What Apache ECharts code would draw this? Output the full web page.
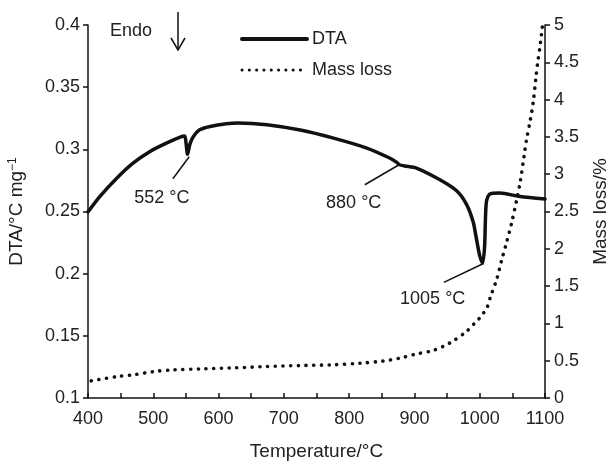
<!DOCTYPE html>
<html>
<head>
<meta charset="utf-8">
<script src="https://cdn.jsdelivr.net/npm/echarts@6/dist/echarts.min.js"></script>
<style>
html,body{margin:0;padding:0;background:#fff;}
#chart{width:615px;height:461px;}
</style>
</head>
<body>
<div id="chart"></div>
<script>
// DTA curve (temperature °C, DTA °C/mg)
const dtaTemp  = [400, 418, 444, 469, 495, 520, 543, 548, 552.5, 556, 561, 571, 587, 612, 630, 674, 725, 776, 827, 862, 873, 877, 885, 903, 939, 965, 980, 990, 995, 1000, 1004.5, 1007.5, 1008.7, 1010, 1013, 1018, 1031, 1062, 1100];
const dtaValue = [0.2497, 0.262, 0.2768, 0.2889, 0.2983, 0.305, 0.3103, 0.3108, 0.296, 0.304, 0.310, 0.3157, 0.3184, 0.3206, 0.3212, 0.3198, 0.3155, 0.309, 0.301, 0.293, 0.2895, 0.2876, 0.2866, 0.2849, 0.2755, 0.2665, 0.2555, 0.2415, 0.228, 0.2145, 0.2085, 0.222, 0.243, 0.2567, 0.2625, 0.2645, 0.2648, 0.262, 0.2600];

// Mass loss curve (temperature °C, mass loss %)
const massTemp  = [405, 444, 469, 500, 531, 572, 623, 674, 725, 776, 817, 852, 878, 903, 929, 954, 980, 995, 1000, 1011, 1017, 1026, 1034, 1041, 1049, 1057, 1062, 1068, 1072, 1077, 1082, 1086, 1089, 1092, 1096];
const massValue = [0.23, 0.287, 0.31, 0.354, 0.377, 0.39, 0.404, 0.422, 0.435, 0.445, 0.467, 0.495, 0.535, 0.59, 0.638, 0.737, 0.894, 1.03, 1.074, 1.209, 1.37, 1.59, 1.86, 2.08, 2.35, 2.67, 2.89, 3.25, 3.48, 3.70, 3.97, 4.29, 4.51, 4.69, 4.98];

// Axis ranges / ticks
const xTicks = [400, 1100, 100];
const leftTicks = [0.1, 0.4, 0.05];
const rightTicks = [0, 5, 0.5];

// Peak annotations: label, leader line start/end (data coords), label position
const peakLabels = ['552 °C', '880 °C', '1005 °C'];
const leaderFrom = [[530, 0.2763], [824, 0.2715], [945, 0.1930]];
const leaderTo   = [[555, 0.2940], [876.5, 0.2876], [1005, 0.2080]];
const labelAt    = [[513, 0.2605], [807, 0.2565], [928, 0.1795]];

const FONT = 'Liberation Sans, Arial, Helvetica, sans-serif';
const TXT = '#222';

const dtaData = dtaTemp.map((t, i) => [t, dtaValue[i]]);
const massData = massTemp.map((t, i) => [t, massValue[i]]);

const chart = echarts.init(document.getElementById('chart'), null, {renderer: 'canvas'});

const option = {
  backgroundColor: '#fff',
  animation: false,
  textStyle: {fontFamily: FONT},
  grid: {left: 88, right: 70, top: 25, bottom: 63, containLabel: false, outerBoundsMode: 'none'},
  legend: {
    orient: 'vertical',
    left: 240, top: 30, padding: 0,
    itemWidth: 65, itemHeight: 14, itemGap: 13,
    itemTextGap: 6,
    itemStyle: {opacity: 0},
    textStyle: {fontFamily: FONT, fontSize: 18, color: TXT},
    data: [
      {name: 'DTA', lineStyle: {width: 4}},
      {name: 'Mass loss', lineStyle: {width: 3, type: [0.1, 7.2], cap: 'round'}}
    ]
  },
  xAxis: {
    type: 'value',
    min: xTicks[0], max: xTicks[1], interval: xTicks[2],
    name: 'Temperature/°C',
    nameLocation: 'middle', nameGap: 44,
    nameTextStyle: {fontFamily: FONT, fontSize: 19, color: TXT},
    axisLine: {show: true, onZero: false, lineStyle: {color: '#111', width: 1.5}},
    axisTick: {show: true, inside: true, length: 5, lineStyle: {color: '#111', width: 1.5}},
    minorTick: {show: true, splitNumber: 2, length: 5, lineStyle: {color: '#111', width: 1.5}},
    axisLabel: {fontFamily: FONT, fontSize: 18, color: TXT, margin: 12, formatter: v => String(v)},
    splitLine: {show: false}
  },
  yAxis: [{
    type: 'value', position: 'left',
    min: leftTicks[0], max: leftTicks[1], interval: leftTicks[2],
    name: 'DTA/°C mg{sup|−1}',
    nameLocation: 'middle', nameGap: 62, nameRotate: 90,
    nameTextStyle: {fontFamily: FONT, fontSize: 19, color: TXT,
      rich: {sup: {fontFamily: FONT, fontSize: 12, color: TXT, verticalAlign: 'top', lineHeight: 10, padding: [0,0,8,0]}}},
    axisLine: {show: true, onZero: false, lineStyle: {color: '#111', width: 1.5}},
    axisTick: {show: true, inside: false, length: 5, lineStyle: {color: '#111', width: 1.5}},
    axisLabel: {fontFamily: FONT, fontSize: 18, color: TXT, margin: 8, formatter: v => String(v)},
    splitLine: {show: false}
  }, {
    type: 'value', position: 'right',
    min: rightTicks[0], max: rightTicks[1], interval: rightTicks[2],
    name: 'Mass loss/%',
    nameLocation: 'middle', nameGap: 46, nameRotate: 90,
    nameTextStyle: {fontFamily: FONT, fontSize: 19, color: TXT},
    axisLine: {show: true, onZero: false, lineStyle: {color: '#111', width: 1.5}},
    axisTick: {show: true, inside: false, length: 5, lineStyle: {color: '#111', width: 1.5}},
    axisLabel: {fontFamily: FONT, fontSize: 18, color: TXT, margin: 9, formatter: v => String(v)},
    splitLine: {show: false}
  }],
  series: [{
    name: 'DTA', type: 'line', yAxisIndex: 0,
    data: dtaData, smooth: 0.25, showSymbol: false, symbol: 'none',
    itemStyle: {color: '#111'},
    lineStyle: {color: '#111', width: 3.5, join: 'round', cap: 'round'},
    markLine: {
      silent: true, symbol: ['none', 'none'],
      lineStyle: {color: '#111', width: 1.5, type: 'solid'},
      label: {show: false},
      data: leaderFrom.map((p, i) => [{coord: p}, {coord: leaderTo[i]}])
    },
    markPoint: {
      silent: true, symbol: 'rect', symbolSize: 1,
      itemStyle: {color: 'rgba(0,0,0,0)'},
      label: {show: true, position: 'inside', fontFamily: FONT, fontSize: 18, color: TXT,
        formatter: p => p.name},
      data: labelAt.map((p, i) => ({name: peakLabels[i], coord: p}))
    },
    z: 3
  }, {
    name: 'Mass loss', type: 'line', yAxisIndex: 1,
    data: massData, smooth: 0.3, showSymbol: false, symbol: 'none',
    itemStyle: {color: '#111'},
    lineStyle: {color: '#111', width: 3.6, type: [0.1, 7.6], cap: 'round'},
    z: 2
  }],
  graphic: [
    {type: 'text', left: 110, top: 22,
      style: {text: 'Endo', fontFamily: FONT, fontSize: 18, fill: TXT}},
    {type: 'polyline', shape: {points: [[178, 12], [178, 50]]},
      style: {stroke: '#111', lineWidth: 1.5, fill: null}},
    {type: 'polyline', shape: {points: [[171, 38], [178, 50], [185, 38]]},
      style: {stroke: '#111', lineWidth: 1.5, fill: null}}
  ]
};
chart.setOption(option);
</script>
</body>
</html>
